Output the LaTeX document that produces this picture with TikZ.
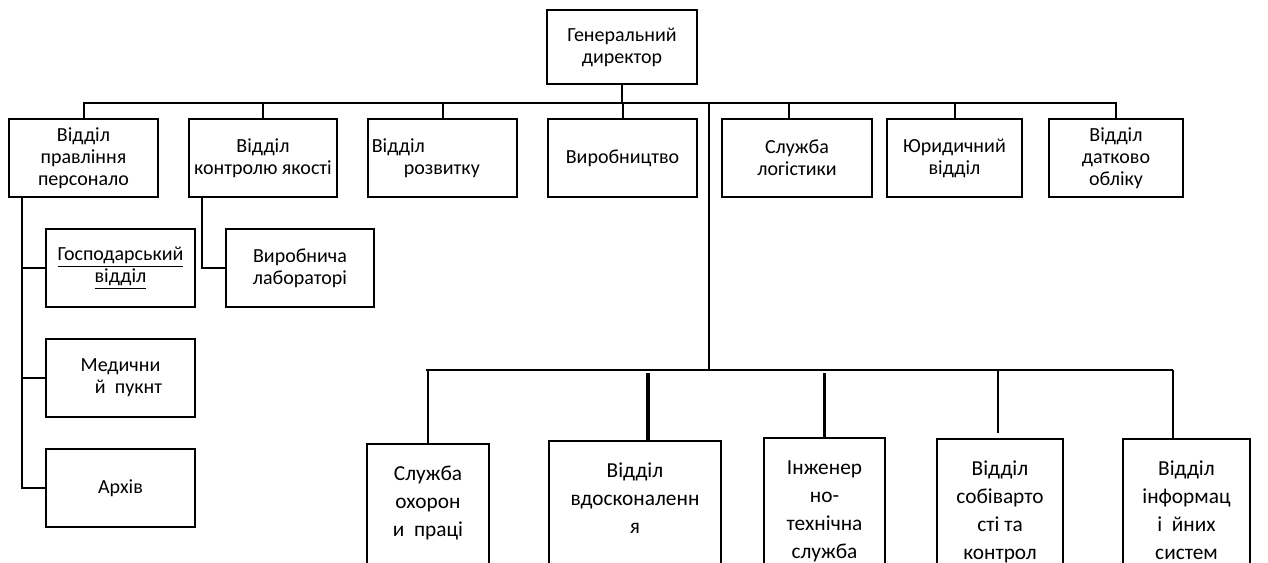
\documentclass[tikz,border=0pt]{standalone}
\usepackage{fontspec}
\setmainfont{Carlito}
\usetikzlibrary{positioning}
\newcommand{\toptext}[2]{\parbox[t]{#1}{\centering #2}}

\begin{document}
\begin{tikzpicture}[
  x=0.75pt,y=-0.75pt,
  font=\fontsize{15}{16.5}\selectfont,
  m/.style={draw,line width=1.5pt,align=center,inner sep=2pt,minimum height=58.5pt},
  dep/.style={m,minimum width=#1},
  low/.style={draw,line width=1.5pt,anchor=north,inner xsep=2pt,inner ysep=0pt,
    font=\fontsize{16}{21}\selectfont,text height=27pt,text depth=120pt,minimum width=#1},
  ln/.style={line width=1.5pt},
  thk/.style={line width=2.5pt}
]
\useasboundingbox (0,0) rectangle (1268,563);
\clip (0,0) rectangle (1268,563);

% director
\node[m,minimum width=112pt,minimum height=55.5pt] (dir) at (622,47) {Генеральний\\директор};

% departments
\node[dep=111.75pt] (b1) at (83.5,158)  {Відділ\\правління\\персонало};
\node[dep=111pt]    (b2) at (263,158)   {Відділ\\контролю якості};
\node[dep=111.75pt,align=left,text width=106pt] (b3) at (442.5,158) {Відділ\\\hspace*{24pt}розвитку};
\node[dep=111.75pt] (b4) at (622.5,158) {Виробництво};
\node[dep=112.5pt]  (b5) at (797,158)   {Служба\\логістики};
\node[dep=101.25pt] (b6) at (954.5,158) {Юридичний\\відділ};
\node[dep=100.5pt]  (b7) at (1116,158)  {Відділ\\датково\\обліку};

% sub units
\node[dep=111.75pt] (s1)  at (120.5,268) {\underline{Господарський}\\\underline{відділ}};
\node[dep=111.75pt] (s2)  at (120.5,378) {Медични\\\hspace*{12pt}й\ \ пукнт};
\node[dep=111.75pt] (s3)  at (120.5,488) {Архів};
\node[dep=111pt]    (lab) at (300,268)   {Виробнича\\лабораторі};

% production services
\node[low=91.5pt]  (l1) at (428,443)    {\toptext{87pt}{Служба\\охорон\\и\ \ праці}};
\node[low=129pt]   (l2) at (635,440)    {\toptext{125pt}{Відділ\\вдосконаленн\\я}};
\node[low=90.75pt] (l3) at (824.5,437)  {\toptext{86pt}{Інженер\\но-\\технічна\\служба}};
\node[low=94.5pt]  (l4) at (1000,438)   {\toptext{90pt}{Відділ\\собіварто\\сті та\\контрол}};
\node[low=95.25pt] (l5) at (1186.5,438) {\toptext{91pt}{Відділ\\інформац\\і\ \ йних\\систем}};

\coordinate (busL) at (83,103);
\coordinate (busR) at (1117,103);
\coordinate (trT) at (709,103);
\coordinate (trB) at (709,370);
\coordinate (lbL) at (426,370);
\coordinate (lbR) at (1173,370);

\draw[ln] (busL) -- (busR);
\draw[ln] (dir.south) -- (dir.south |- busL);
\foreach \n in {b1,b2,b3,b4,b6,b7} \draw[ln] (\n.north) -- (\n.north |- busL);
\draw[ln] ([xshift=-6pt]b5.north) -- ([xshift=-6pt]b5.north |- busL);

\draw[ln] ([xshift=10.5pt]b1.south west) |- (s1.west);
\draw[ln] ([xshift=10.5pt]b1.south west) |- (s2.west);
\draw[ln] ([xshift=10.5pt]b1.south west) |- (s3.west);
\draw[ln] ([xshift=10.5pt]b2.south west) |- (lab.west);

\draw[ln] (trT) -- (trB);
\draw[ln] (lbL) -- (lbR);
\draw[ln] (l1.north) -- (l1.north |- lbL);
\draw[thk,shorten >=2.5pt] ([xshift=9.75pt]l2.north) -- ([xshift=9.75pt]l2.north |- lbL);
\draw[thk,shorten >=2.5pt] (l3.north) -- (l3.north |- lbL);
\draw[ln,shorten <=4pt] ([xshift=-1.5pt]l4.north) -- ([xshift=-1.5pt]l4.north |- lbL);
\draw[ln] ([xshift=-10pt]l5.north) -- ([xshift=-10pt]l5.north |- lbL);
\end{tikzpicture}
\end{document}
